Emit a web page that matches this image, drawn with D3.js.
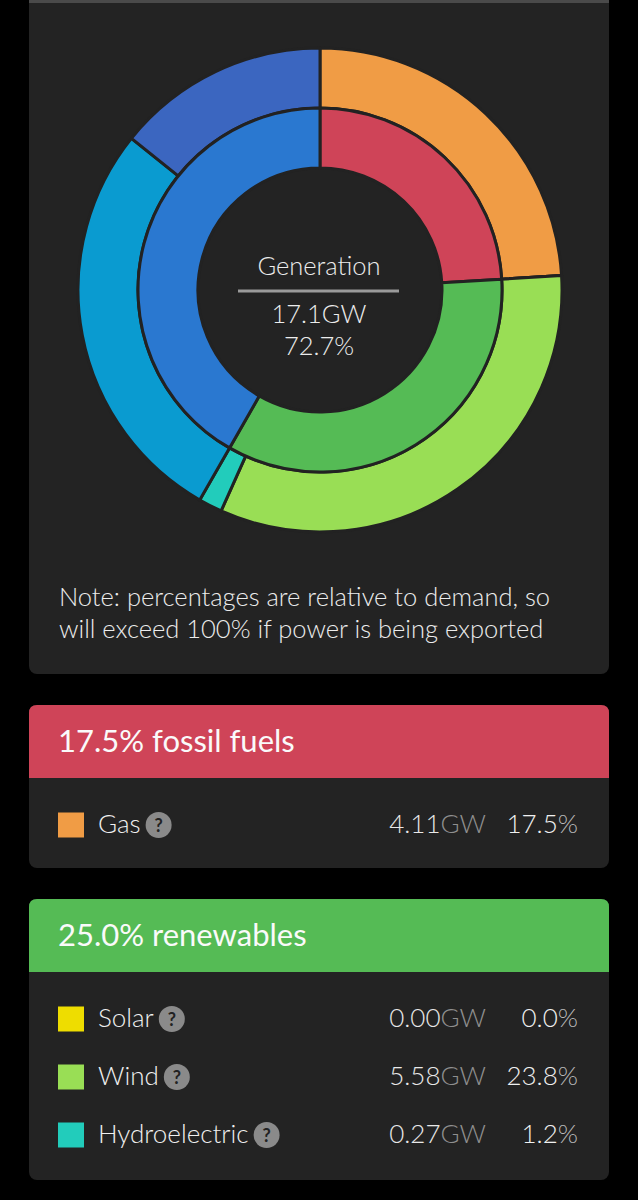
<!DOCTYPE html>
<html>
<head>
<meta charset="utf-8">
<script src="https://cdn.jsdelivr.net/npm/d3@7"></script>
<style>
  html, body { margin: 0; padding: 0; background: #000; }
  svg { display: block; }
  text { font-family: Lato, "Open Sans", sans-serif; font-weight: 300; }
  text.header { font-weight: 400; }
</style>
</head>
<body>
<script>
// ---------- data ----------
const sourceNames  = ["Gas", "Solar", "Wind", "Hydroelectric", "Nuclear", "Biomass"];
const sourceGW     = [4.11, 0.00, 5.58, 0.27, 4.70, 2.43];
const sourceColors = ["#f09c45", "#eedd00", "#99de55", "#22ccbb", "#0a9bd0", "#3b66c0"];

const groupNames  = ["fossil fuels", "renewables", "other sources"];
const groupGW     = [4.11, 5.85, 7.13];
const groupColors = ["#cf4458", "#55bb55", "#2a78d0"];

const centerLabel = "Generation";
const totalGW = 17.1;
const totalPct = 72.7;

const noteLines = ["Note: percentages are relative to demand, so",
                   "will exceed 100% if power is being exported"];

const fossilHeaderPct = 17.5;
const fossilRows = ["Gas"];
const fossilRowGW = [4.11];
const fossilRowPct = [17.5];
const fossilRowColors = ["#f09c45"];

const renewHeaderPct = 25.0;
const renewRows = ["Solar", "Wind", "Hydroelectric"];
const renewRowGW = [0.00, 5.58, 0.27];
const renewRowPct = [0.0, 23.8, 1.2];
const renewRowColors = ["#eedd00", "#99de55", "#22ccbb"];

// ---------- drawing ----------
const W = 638, H = 1200;
const svg = d3.select("body").append("svg").attr("width", W).attr("height", H);
svg.append("rect").attr("width", W).attr("height", H).attr("fill", "#000");

const panelX = 29, panelW = 580, panelFill = "#232323";

// top panel (square top with grey border, rounded bottom)
svg.append("rect").attr("x", panelX).attr("y", -10).attr("width", panelW).attr("height", 684)
  .attr("rx", 8).attr("fill", panelFill);
svg.append("rect").attr("x", panelX).attr("y", 0).attr("width", panelW).attr("height", 3)
  .attr("fill", "#4a4a4a");

// donut
const cx = 320, cy = 290;
const rHole = 122, rMid = 182, rOuter = 242;
const pie = d3.pie().sort(null).value(d => d);
const g = svg.append("g").attr("transform", `translate(${cx},${cy})`);

const outerArc = d3.arc().innerRadius(rMid).outerRadius(rOuter);
const innerArc = d3.arc().innerRadius(rHole).outerRadius(rMid);

g.selectAll("path.outer").data(pie(sourceGW)).join("path")
  .attr("class", "outer")
  .attr("d", outerArc)
  .attr("fill", (d, i) => sourceColors[i])
  .attr("stroke", "#222").attr("stroke-width", 3).attr("stroke-linejoin", "round");

g.selectAll("path.inner").data(pie(groupGW)).join("path")
  .attr("class", "inner")
  .attr("d", innerArc)
  .attr("fill", (d, i) => groupColors[i])
  .attr("stroke", "#222").attr("stroke-width", 3).attr("stroke-linejoin", "round");

// centre text
g.append("text").attr("x", -1).attr("y", -15).attr("text-anchor", "middle")
  .attr("font-size", 25.5).attr("fill", "#ececec").text(centerLabel);
g.append("rect").attr("x", -82).attr("y", -0.5).attr("width", 161).attr("height", 3)
  .attr("fill", "#9a9a9a");
g.append("text").attr("x", -1).attr("y", 33).attr("text-anchor", "middle")
  .attr("font-size", 25.5).attr("fill", "#ececec").text(totalGW.toFixed(1) + "GW");
g.append("text").attr("x", -1).attr("y", 65).attr("text-anchor", "middle")
  .attr("font-size", 25.5).attr("fill", "#ececec").text(totalPct.toFixed(1) + "%");

// note
svg.append("g").selectAll("text").data(noteLines).join("text")
  .attr("x", 59).attr("y", (d, i) => 606 + i * 32)
  .attr("font-size", 25.5).attr("fill", "#ececec").text(d => d);

// legend panels
function legendPanel(top, bottom, headerColor, headerPct, headerName, names, gws, pcts, colors) {
  const p = svg.append("g");
  p.append("rect").attr("x", panelX).attr("y", top).attr("width", panelW)
    .attr("height", bottom - top).attr("rx", 8).attr("fill", panelFill);
  const bandH = 73;
  p.append("path")
    .attr("d", `M${panelX},${top + bandH} V${top + 8} Q${panelX},${top} ${panelX + 8},${top} H${panelX + panelW - 8} Q${panelX + panelW},${top} ${panelX + panelW},${top + 8} V${top + bandH} Z`)
    .attr("fill", headerColor);
  p.append("text").attr("class", "header").attr("x", 58).attr("y", top + 47).attr("font-size", 31)
    .attr("fill", "#fafafa").text(headerPct.toFixed(1) + "% " + headerName);

  const rows = p.selectAll("g.row").data(names).join("g").attr("class", "row")
    .attr("transform", (d, i) => `translate(0,${top + bandH + 47 + i * 58})`);
  rows.append("rect").attr("x", 58).attr("y", -12.5).attr("width", 26).attr("height", 25)
    .attr("fill", (d, i) => colors[i]);
  rows.append("text").attr("x", 98).attr("y", 8).attr("font-size", 26)
    .attr("fill", "#f0f0f0").text(d => d);
  rows.each(function (d, i) {
    const row = d3.select(this);
    const tw = row.select("text").node().getComputedTextLength();
    const qx = 98 + tw + 18;
    row.append("circle").attr("cx", qx).attr("cy", 0).attr("r", 13).attr("fill", "#8a8a8a");
    row.append("text").attr("x", qx).attr("y", 6.5).attr("text-anchor", "middle")
      .attr("font-size", 18).style("font-weight", "bold").attr("fill", "#222").text("?");
    const gwText = row.append("text").attr("x", 486).attr("y", 8).attr("text-anchor", "end")
      .attr("font-size", 26);
    gwText.append("tspan").attr("fill", "#e8e8e8").text(gws[i].toFixed(2));
    gwText.append("tspan").attr("fill", "#8f8f8f").text("GW");
    const pctText = row.append("text").attr("x", 578).attr("y", 8).attr("text-anchor", "end")
      .attr("font-size", 26);
    pctText.append("tspan").attr("fill", "#f0f0f0").text(pcts[i].toFixed(1));
    pctText.append("tspan").attr("fill", "#b8b8b8").text("%");
  });
}

legendPanel(705, 868, "#cf4458", fossilHeaderPct, "fossil fuels",
  fossilRows, fossilRowGW, fossilRowPct, fossilRowColors);
legendPanel(899, 1180, "#55bb55", renewHeaderPct, "renewables",
  renewRows, renewRowGW, renewRowPct, renewRowColors);
</script>
</body>
</html>
